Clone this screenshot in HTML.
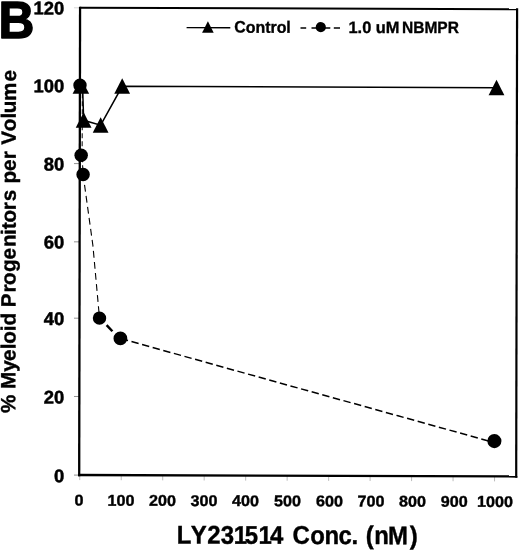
<!DOCTYPE html>
<html><head><meta charset="utf-8"><title>B</title>
<style>html,body{margin:0;padding:0;background:#fff}svg{display:block}text{font-family:"Liberation Sans",Arial,Helvetica,sans-serif;font-weight:bold;fill:#000;stroke:#000;stroke-linejoin:round}</style></head><body>
<svg width="520" height="552" viewBox="0 0 520 552">
<rect width="520" height="552" fill="#fff"/>
<g transform="matrix(1 0.0031 -0.0019 1 0.4600 -0.9242)">
<line x1="74.44" y1="475.78" x2="79.94" y2="475.78" stroke="#777" stroke-width="0.8"/>
<line x1="74.29" y1="397.18" x2="79.79" y2="397.18" stroke="#777" stroke-width="0.8"/>
<line x1="74.14" y1="318.88" x2="79.64" y2="318.88" stroke="#777" stroke-width="0.8"/>
<line x1="74.00" y1="242.53" x2="79.50" y2="242.53" stroke="#777" stroke-width="0.8"/>
<line x1="73.85" y1="164.28" x2="79.35" y2="164.28" stroke="#777" stroke-width="0.8"/>
<line x1="73.70" y1="86.38" x2="79.20" y2="86.38" stroke="#777" stroke-width="0.8"/>
<line x1="73.55" y1="8.48" x2="79.05" y2="8.48" stroke="#ccc" stroke-width="0.8"/>
<line x1="80.20" y1="475.75" x2="80.20" y2="480.75" stroke="#aaa" stroke-width="0.8"/>
<line x1="121.68" y1="475.75" x2="121.68" y2="480.75" stroke="#aaa" stroke-width="0.8"/>
<line x1="163.16" y1="475.75" x2="163.16" y2="480.75" stroke="#aaa" stroke-width="0.8"/>
<line x1="204.64" y1="475.75" x2="204.64" y2="480.75" stroke="#aaa" stroke-width="0.8"/>
<line x1="246.12" y1="475.75" x2="246.12" y2="480.75" stroke="#aaa" stroke-width="0.8"/>
<line x1="287.60" y1="475.75" x2="287.60" y2="480.75" stroke="#aaa" stroke-width="0.8"/>
<line x1="329.08" y1="475.75" x2="329.08" y2="480.75" stroke="#aaa" stroke-width="0.8"/>
<line x1="370.56" y1="475.75" x2="370.56" y2="480.75" stroke="#aaa" stroke-width="0.8"/>
<line x1="412.04" y1="475.75" x2="412.04" y2="480.75" stroke="#aaa" stroke-width="0.8"/>
<line x1="453.52" y1="475.75" x2="453.52" y2="480.75" stroke="#aaa" stroke-width="0.8"/>
<line x1="495.00" y1="475.75" x2="495.00" y2="480.75" stroke="#aaa" stroke-width="0.8"/>
<line x1="79.63" y1="8.50" x2="516.65" y2="8.50" stroke="#000" stroke-width="2"/>
<line x1="516.65" y1="7.50" x2="516.65" y2="476.95" stroke="#000" stroke-width="2.2"/>
<line x1="79.63" y1="7.50" x2="79.63" y2="476.95" stroke="#000" stroke-width="2.3"/>
<line x1="78.53" y1="475.75" x2="517.75" y2="475.75" stroke="#000" stroke-width="2.4"/>
<polyline fill="none" stroke="#000" stroke-width="1.5" points="82.30,86.87 83.42,121.01 100.43,125.81 121.90,86.85 496.21,87.14"/>
<polyline fill="none" stroke="#000" stroke-width="1" stroke-dasharray="5 3" points="82.10,85.87 81.94,155.97 82.97,175.17"/>
<polyline fill="none" stroke="#000" stroke-width="1.1" stroke-dasharray="6.8 4.3" stroke-dashoffset="0.6" points="82.97,175.17 92.91,246.14 99.64,318.72"/>
<line x1="106.76" y1="325.79" x2="112.57" y2="331.83" stroke="#000" stroke-width="2.5"/>
<polyline fill="none" stroke="#000" stroke-width="1.5" stroke-dasharray="7.4 3.6" stroke-dashoffset="-0.5" points="120.58,339.00 210.23,363.77 308.28,390.77 398.33,415.49 494.78,441.99"/>
<circle cx="79.70" cy="85.88" r="6.7" fill="#000"/>
<circle cx="80.99" cy="155.97" r="6.75" fill="#000"/>
<circle cx="82.97" cy="175.17" r="6.75" fill="#000"/>
<circle cx="99.64" cy="318.72" r="6.7" fill="#000"/>
<circle cx="120.58" cy="339.00" r="6.9" fill="#000"/>
<circle cx="494.78" cy="440.49" r="7.05" fill="#000"/>
<polygon points="80.60,78.87 72.30,94.37 88.90,94.37" fill="#000"/>
<polygon points="83.42,113.01 75.52,128.51 91.32,128.51" fill="#000"/>
<polygon points="100.43,117.81 92.53,133.31 108.33,133.31" fill="#000"/>
<polygon points="121.90,78.85 114.00,94.35 129.80,94.35" fill="#000"/>
<polygon points="496.21,79.14 488.31,94.64 504.11,94.64" fill="#000"/>
<line x1="186.19" y1="27.95" x2="229.89" y2="27.95" stroke="#000" stroke-width="1.4"/>
<polygon points="207.49,21.58 201.69,32.98 213.29,32.98" fill="#000"/>
<text x="233.80" y="32.80" font-size="16.5" stroke-width="0.35" textLength="56.6" lengthAdjust="spacingAndGlyphs">Control</text>
<line x1="300.09" y1="27.93" x2="305.79" y2="27.93" stroke="#000" stroke-width="1.4"/>
<line x1="311.09" y1="27.93" x2="329.89" y2="27.93" stroke="#000" stroke-width="1.4"/>
<line x1="333.39" y1="27.93" x2="339.59" y2="27.93" stroke="#000" stroke-width="1.4"/>
<circle cx="320.39" cy="27.13" r="5.1" fill="#000"/>
<text font-size="16.5" stroke-width="0.35"><tspan x="348.10" y="32.74" textLength="51.0" lengthAdjust="spacingAndGlyphs">1.0 uM</tspan> <tspan x="401.60" y="32.63" textLength="56.9" lengthAdjust="spacingAndGlyphs">NBMPR</tspan></text>
<text transform="translate(-1.89 38.93) scale(0.95 1)" font-size="52.3" stroke-width="1.5">B</text>
<text transform="translate(64.76 482.97) scale(1.0 1)" font-size="18.4" stroke-width="0.5" text-anchor="end">0</text>
<text transform="translate(64.61 404.17) scale(1.0 1)" font-size="18.4" stroke-width="0.5" text-anchor="end">20</text>
<text transform="translate(64.46 325.67) scale(1.0 1)" font-size="18.4" stroke-width="0.5" text-anchor="end">40</text>
<text transform="translate(64.31 249.22) scale(1.0 1)" font-size="18.4" stroke-width="0.5" text-anchor="end">60</text>
<text transform="translate(64.16 171.27) scale(1.0 1)" font-size="18.4" stroke-width="0.5" text-anchor="end">80</text>
<text transform="translate(64.02 93.12) scale(1.0 1)" font-size="18.4" stroke-width="0.5" text-anchor="end">100</text>
<text transform="translate(63.87 15.17) scale(1.0 1)" font-size="18.4" stroke-width="0.5" text-anchor="end">120</text>
<text transform="translate(79.40 506.30) scale(1.035 1)" font-size="15.6" stroke-width="0.4" text-anchor="middle">0</text>
<text transform="translate(121.58 506.30) scale(1.035 1)" font-size="15.6" stroke-width="0.4" text-anchor="middle">100</text>
<text transform="translate(163.06 506.30) scale(1.035 1)" font-size="15.6" stroke-width="0.4" text-anchor="middle">200</text>
<text transform="translate(204.54 506.30) scale(1.035 1)" font-size="15.6" stroke-width="0.4" text-anchor="middle">300</text>
<text transform="translate(246.02 506.30) scale(1.035 1)" font-size="15.6" stroke-width="0.4" text-anchor="middle">400</text>
<text transform="translate(288.00 506.30) scale(1.035 1)" font-size="15.6" stroke-width="0.4" text-anchor="middle">500</text>
<text transform="translate(330.08 506.30) scale(1.035 1)" font-size="15.6" stroke-width="0.4" text-anchor="middle">600</text>
<text transform="translate(371.46 506.30) scale(1.035 1)" font-size="15.6" stroke-width="0.4" text-anchor="middle">700</text>
<text transform="translate(413.04 506.30) scale(1.035 1)" font-size="15.6" stroke-width="0.4" text-anchor="middle">800</text>
<text transform="translate(454.82 506.30) scale(1.035 1)" font-size="15.6" stroke-width="0.4" text-anchor="middle">900</text>
<text transform="translate(495.50 506.30) scale(1.035 1)" font-size="15.6" stroke-width="0.4" text-anchor="middle">1000</text>
<text transform="scale(0.935 1)" font-size="25.6" stroke-width="0.4" y="543.89"><tspan x="189.68 204.69 222.40 236.82 250.71 262.37 277.02 289.42">LY231514</tspan> <tspan x="313.58 332.56 347.55 362.55 376.61">Conc.</tspan> <tspan x="391.87 400.79 415.57 438.78">(nM)</tspan></text>
<text transform="translate(15.62 0) rotate(-90)" font-size="20.6" stroke-width="0.4" y="0"><tspan x="-413.77">%</tspan> <tspan x="-389.85 -372.62 -361.77 -350.23 -344.68 -332.23 -326.35">Myeloid</tspan> <tspan x="-308.24 -293.51 -285.78 -273.00 -260.27 -247.91 -235.98 -230.20 -223.28 -211.06 -202.02">Progenitors</tspan> <tspan x="-184.32 -171.77 -160.16">per</tspan> <tspan x="-145.70 -132.23 -119.43 -114.16 -101.87 -82.42">Volume</tspan></text>
</g></svg></body></html>
